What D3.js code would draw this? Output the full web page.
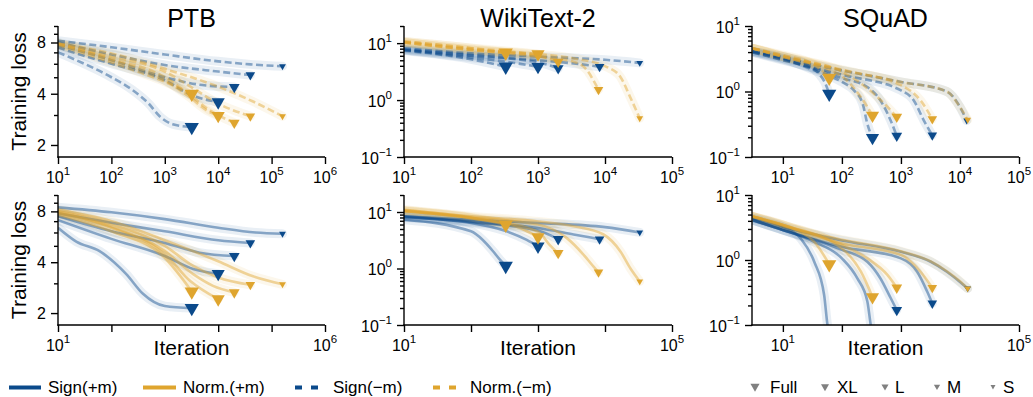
<!DOCTYPE html>
<html><head><meta charset="utf-8">
<script src="https://cdn.jsdelivr.net/npm/d3@7"></script>
<style>
html,body{margin:0;padding:0;background:#fff;}
svg{display:block;font-family:"Liberation Sans",Arial,Helvetica,sans-serif;}
</style></head><body>
<svg id="chart" width="1033" height="397"></svg>
<script>
// ---------------- data ----------------
const datasets = ["PTB", "WikiText-2", "SQuAD"];
const sizes = ["Full", "XL", "L", "M", "S"];
const lineLegend = ["Sign(+m)", "Norm.(+m)", "Sign(\u2212m)", "Norm.(\u2212m)"];
const xDomains = [[10, 1e6], [10, 1e5], [3, 1e5]];
const yDomains = [[1.7, 10], [0.1, 20], [0.1, 10]];
const xTickExps = [[1, 2, 3, 4, 5, 6], [1, 2, 3, 4, 5], [1, 2, 3, 4, 5]];
const xLabelExpsBottom = [[1, 6], [1, 5], [1, 5]];
const yMajorTicks = [[2, 4, 8], [0.1, 1, 10], [0.1, 1, 10]];
const yMajorLabels = [["2", "4", "8"], ["\u22121", "0", "1"], ["\u22121", "0", "1"]];

// each array: curves ordered Full, XL, L, M, S ; points [iteration, loss]
// top row: (-m), dashed
const ptbSignMinus = [
  [[10,7.0],[22,6.3],[100,5.0],[250,4.2],[500,3.5],[800,2.95],[1400,2.65],[3200,2.55]],
  [[10,7.5],[22,6.9],[100,6.0],[1000,4.8],[3000,3.95],[1e4,3.57]],
  [[10,7.75],[100,6.3],[1000,5.0],[5000,4.5],[2e4,4.38]],
  [[10,8.0],[100,6.8],[1000,5.9],[1e4,5.4],[4e4,5.15]],
  [[10,8.2],[100,7.5],[1000,6.8],[1e4,6.2],[4e4,5.95],[1.6e5,5.8]]
];
const ptbNormMinus = [
  [[10,7.75],[100,6.1],[1000,4.7],[3200,4.0]],
  [[10,7.85],[100,6.3],[1000,4.8],[3000,3.8],[6000,3.2],[1e4,2.97]],
  [[10,7.85],[100,6.4],[1000,5.0],[3400,3.8],[6000,3.3],[2e4,2.7]],
  [[10,7.9],[100,6.6],[1000,5.4],[3400,4.3],[1e4,3.5],[4e4,2.95]],
  [[10,7.9],[100,6.9],[1000,5.6],[1e4,4.4],[4.5e4,3.6],[1.6e5,2.95]]
];
const wikiSignMinus = [
  [[10,7.4],[100,5.2],[330,3.85]],
  [[10,7.6],[100,5.6],[340,4.7],[1000,3.85]],
  [[10,7.6],[100,6.0],[1000,4.6],[2000,3.6]],
  [[10,7.8],[100,6.2],[1000,5.0],[3400,4.4],[8300,3.85]],
  [[10,8.15],[100,6.6],[1000,5.8],[1e4,5.1],[3.3e4,4.5]]
];
const wikiNormMinus = [
  [[10,10.7],[100,8.15],[330,6.8]],
  [[10,10.3],[100,7.8],[1000,6.4]],
  [[10,10.3],[100,7.6],[1000,5.95],[2000,4.7]],
  [[10,10.3],[100,7.6],[1000,5.8],[3400,4.7],[5400,3.35],[6750,2.2],[8000,1.52]],
  [[10,10.7],[100,8.2],[1000,6.4],[3400,5.4],[1.07e4,3.8],[1.7e4,2.55],[2.4e4,1.1],[3.3e4,0.48]]
];
const squadSignMinus = [
  [[3.1,4.1],[7.2,3.6],[10,3.4],[26,2.55],[40,1.9],[52,1.35],[61,0.92]],
  [[3.1,4.1],[10,3.2],[34,2.1],[100,1.4],[160,1.04],[225,0.65],[270,0.32],[330,0.197]],
  [[3.1,3.95],[10,3.1],[100,1.6],[270,1.17],[450,0.73],[670,0.36],[850,0.21]],
  [[3.1,3.95],[10,3.0],[100,1.8],[1000,1.04],[1650,0.73],[2450,0.36],[3400,0.215]],
  [[3.1,4.1],[10,3.2],[100,2.1],[1000,1.4],[6000,1.0],[1e4,0.58],[1.3e4,0.36]]
];
const squadNormMinus = [
  [[3.1,4.55],[10,3.6],[34,2.55],[61,1.62]],
  [[3.1,4.55],[10,3.4],[100,1.7],[210,0.82],[330,0.43]],
  [[3.1,4.55],[10,3.4],[100,2.0],[350,0.92],[850,0.41]],
  [[3.1,4.55],[10,3.4],[100,2.1],[1000,1.25],[2150,0.73],[3400,0.38]],
  [[3.1,4.55],[10,3.5],[100,2.15],[1000,1.4],[6000,1.0],[1e4,0.58],[1.35e4,0.37]]
];
// bottom row: (+m), solid
const ptbSignPlus = [
  [[10,6.4],[22,5.3],[60,4.65],[190,3.4],[390,2.6],[1000,2.2],[3200,2.14]],
  [[10,7.1],[100,5.5],[1000,4.35],[3400,3.65],[1e4,3.42]],
  [[10,7.5],[100,6.1],[1000,5.2],[4500,4.55],[2e4,4.35]],
  [[10,7.8],[100,6.85],[1000,6.1],[1e4,5.4],[4e4,5.2]],
  [[10,8.45],[100,7.9],[1000,7.2],[1e4,6.4],[5e4,6.0],[1.6e5,5.9]]
];
const ptbNormPlus = [
  [[10,7.65],[100,6.1],[1000,4.25],[3200,2.68]],
  [[10,7.8],[100,6.4],[1000,4.45],[3000,3.1],[1e4,2.42]],
  [[10,7.9],[100,6.5],[1000,4.65],[3400,3.4],[8000,2.9],[2e4,2.65]],
  [[10,8.0],[100,6.7],[1000,5.0],[3400,3.8],[1e4,3.25],[4e4,2.94]],
  [[10,8.2],[100,7.0],[1000,5.4],[1e4,4.05],[4.5e4,3.3],[1.6e5,2.96]]
];
const wikiSignPlus = [
  [[10,7.3],[100,4.55],[150,3.2],[215,2.0],[270,1.43],[330,1.11]],
  [[10,8.0],[100,6.4],[340,4.55],[680,3.2],[1000,2.46]],
  [[10,8.15],[100,6.6],[1000,4.7],[2000,3.3]],
  [[10,8.4],[100,6.8],[1000,5.2],[3400,4.0],[8300,3.3]],
  [[10,8.4],[100,7.3],[1000,6.4],[1e4,5.4],[3.3e4,4.35]]
];
const wikiNormPlus = [
  [[10,10.6],[100,8.0],[330,5.96]],
  [[10,10.3],[100,7.8],[540,5.2],[1000,3.6]],
  [[10,10.3],[100,7.8],[1000,4.5],[1500,2.6],[2000,1.87]],
  [[10,10.6],[100,8.0],[1000,6.0],[2700,3.45],[4800,1.75],[6750,1.08],[8000,0.86]],
  [[10,11],[100,8.4],[1000,6.8],[3400,5.6],[9500,4.0],[1.7e4,2.0],[2.4e4,1.0],[3.3e4,0.59]]
];
const squadSignPlus = [
  [[3.1,4.4],[10,3.25],[20,2.15],[34,0.94],[50,0.29],[57,0.1],[61,0.07]],
  [[3.1,4.1],[10,2.9],[34,1.9],[100,1.06],[183,0.52],[270,0.23],[308,0.1],[330,0.07]],
  [[3.1,4.1],[10,2.9],[100,1.43],[270,0.94],[450,0.52],[670,0.26],[850,0.17]],
  [[3.1,4.1],[10,2.9],[100,1.6],[1000,1.06],[1885,0.66],[2770,0.33],[3400,0.215]],
  [[3.1,4.4],[10,3.25],[100,2.0],[1000,1.34],[3200,0.94],[6000,0.66],[1e4,0.46],[1.35e4,0.365]]
];
const squadNormPlus = [
  [[3.1,4.65],[10,3.45],[34,1.9],[61,0.86]],
  [[3.1,4.65],[10,3.45],[100,1.5],[210,0.66],[330,0.27]],
  [[3.1,4.65],[10,3.45],[100,1.7],[270,1.06],[590,0.59],[850,0.375]],
  [[3.1,4.65],[10,3.45],[100,1.8],[1000,1.2],[2150,0.66],[3400,0.375]],
  [[3.1,4.65],[10,3.3],[100,2.05],[1000,1.36],[3200,0.95],[6000,0.67],[1e4,0.47],[1.35e4,0.365]]
];

// ---------------- layout / style ----------------
const BLUE = "#0b4a8b", GOLD = "#dfa52e", GREY = "#808080";
const colX = [[58, 325], [404, 672], [752, 1019]];
const rowY = [[26, 157], [195, 325]];
const markerArea = [88, 75, 50, 40, 20];
const legendMarkerArea = [36, 28, 22, 17, 11];
const panels = [
  [[ptbSignMinus, ptbNormMinus], [wikiSignMinus, wikiNormMinus], [squadSignMinus, squadNormMinus]],
  [[ptbSignPlus, ptbNormPlus], [wikiSignPlus, wikiNormPlus], [squadSignPlus, squadNormPlus]]
];

const svg = d3.select("#chart");
const defs = svg.append("defs");

function minorTicks(dom) {
  const out = [];
  const lo = Math.floor(Math.log10(dom[0])), hi = Math.ceil(Math.log10(dom[1]));
  for (let e = lo; e <= hi; e++) {
    for (let m = 2; m <= 9; m++) {
      const v = m * Math.pow(10, e);
      if (v >= dom[0] * 0.999 && v <= dom[1] * 1.001) out.push(v);
    }
  }
  return out;
}

function supText(sel, base, exp, fs) {
  sel.append("tspan").text(base);
  sel.append("tspan").attr("dy", -8).attr("font-size", fs).text(exp);
}

for (let r = 0; r < 2; r++) {
  for (let c = 0; c < 3; c++) {
    const [x0, x1] = colX[c];
    const [y0, y1] = rowY[r];
    const x = d3.scaleLog().domain(xDomains[c]).range([x0, x1]);
    const y = d3.scaleLog().domain(yDomains[c]).range([y1, y0]);
    const g = svg.append("g");
    const clipId = `clip-${r}-${c}`;
    defs.append("clipPath").attr("id", clipId)
      .append("rect").attr("x", x0).attr("y", y0 - 6).attr("width", x1 - x0).attr("height", y1 - y0 + 6);

    const line = d3.line().x(d => x(d[0])).y(d => y(d[1])).curve(d3.curveMonotoneX);
    const [signSeries, normSeries] = panels[r][c];
    const groups = [[signSeries, BLUE], [normSeries, GOLD]];
    const plot = g.append("g").attr("clip-path", `url(#${clipId})`);

    // bands
    groups.forEach(([series, col]) => {
      series.forEach(pts => {
        plot.append("path").attr("d", line(pts)).attr("fill", "none")
          .attr("stroke", col).attr("stroke-opacity", 0.09).attr("stroke-width", 9)
          .attr("stroke-linecap", "round").attr("stroke-linejoin", "round");
      });
    });
    // lines
    groups.forEach(([series, col]) => {
      series.forEach(pts => {
        const p = plot.append("path").attr("d", line(pts)).attr("fill", "none")
          .attr("stroke", col).attr("stroke-opacity", 0.45).attr("stroke-width", 2.6);
        if (r === 0) p.attr("stroke-dasharray", "7,3.5");
      });
    });
    // markers
    groups.forEach(([series, col]) => {
      series.forEach((pts, i) => {
        const last = pts[pts.length - 1];
        if (last[1] < yDomains[c][0]) return;
        g.append("path")
          .attr("d", d3.symbol().type(d3.symbolTriangle).size(markerArea[i])())
          .attr("transform", `translate(${x(last[0])},${y(last[1])}) rotate(180)`)
          .attr("fill", col);
      });
    });

    // x axis
    const xa = g.append("g").attr("transform", `translate(0,${y1})`)
      .call(d3.axisBottom(x).tickValues(xTickExps[c].map(e => Math.pow(10, e)))
        .tickSize(7).tickSizeOuter(0).tickFormat(""));
    // y axis
    const ya = g.append("g").attr("transform", `translate(${x0},0)`)
      .call(d3.axisLeft(y).tickValues(yMajorTicks[c]).tickSize(7).tickSizeOuter(0).tickFormat(""));
    const ym = g.append("g").attr("transform", `translate(${x0},0)`)
      .call(d3.axisLeft(y).tickValues(c === 0 ? [3, 5, 6, 7, 9, 10] : minorTicks(yDomains[c]))
        .tickSize(4).tickSizeOuter(0).tickFormat(""));
    ym.select(".domain").remove();
    [xa, ya, ym].forEach(a => {
      a.selectAll("path,line").attr("stroke", "#000").attr("stroke-width", 1.4);
    });
    xa.select(".domain").attr("d", `M${x0 - 0.7},0H${x1}`);
    ya.select(".domain").attr("d", `M0,${y0}V${y1 + 0.7}`);

    // x tick labels
    const labExps = r === 0 ? xTickExps[c] : xLabelExpsBottom[c];
    labExps.forEach(e => {
      const t = g.append("text").attr("x", x(Math.pow(10, e))).attr("y", y1 + 26)
        .attr("text-anchor", "middle").attr("font-size", 16).attr("fill", "#000");
      supText(t, "10", String(e), 11.5);
    });
    // y tick labels
    yMajorTicks[c].forEach((v, i) => {
      const t = g.append("text").attr("x", x0 - 12).attr("y", y(v)).attr("dy", c === 0 ? "0.36em" : "0.42em")
        .attr("text-anchor", "end").attr("font-size", 16).attr("fill", "#000");
      if (c === 0) t.text(yMajorLabels[c][i]);
      else supText(t, "10", yMajorLabels[c][i], 11.5);
    });

    // titles / labels
    if (r === 0) {
      g.append("text").attr("x", (x0 + x1) / 2).attr("y", 27).attr("text-anchor", "middle")
        .attr("font-size", 25).attr("fill", "#000").text(datasets[c]);
    } else {
      g.append("text").attr("x", (x0 + x1) / 2).attr("y", 355).attr("text-anchor", "middle")
        .attr("font-size", 21).attr("fill", "#000").text("Iteration");
    }
    if (c === 0) {
      g.append("text").attr("transform", `translate(26,${(y0 + y1) / 2}) rotate(-90)`)
        .attr("text-anchor", "middle").attr("font-size", 21).attr("fill", "#000").text("Training loss");
    }
  }
}

// ---------------- legend ----------------
const lg = svg.append("g");
const LY = 387.5;
const lineItems = [
  { x1: 9, x2: 41, tx: 48, col: BLUE, dash: null },
  { x1: 143, x2: 176, tx: 183, col: GOLD, dash: null },
  { x1: 295, x2: 318, tx: 333, col: BLUE, dash: "7,9" },
  { x1: 433, x2: 456, tx: 470, col: GOLD, dash: "7,9" }
];
lineItems.forEach((it, i) => {
  const l = lg.append("line").attr("x1", it.x1).attr("x2", it.x2).attr("y1", LY).attr("y2", LY)
    .attr("stroke", it.col).attr("stroke-width", 4);
  if (it.dash) l.attr("stroke-dasharray", it.dash);
  lg.append("text").attr("x", it.tx).attr("y", 393).attr("font-size", 17).attr("fill", "#000").text(lineLegend[i]);
});
const markerX = [755, 825, 885, 937, 993];
const markerTX = [770, 837, 895, 947, 1003];
sizes.forEach((s, i) => {
  lg.append("path").attr("d", d3.symbol().type(d3.symbolTriangle).size(legendMarkerArea[i])())
    .attr("transform", `translate(${markerX[i]},386.5) rotate(180)`).attr("fill", GREY);
  lg.append("text").attr("x", markerTX[i]).attr("y", 393).attr("font-size", 17).attr("fill", "#000").text(s);
});
</script>
</body></html>
